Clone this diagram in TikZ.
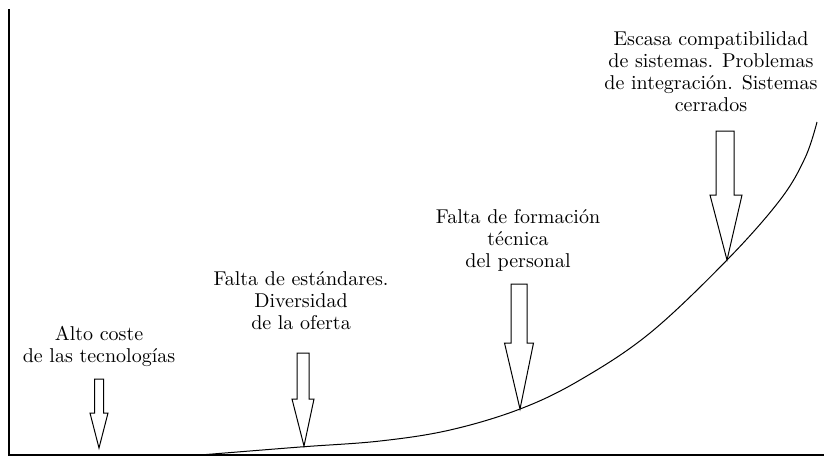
\documentclass[tikz,border=0pt]{standalone}
\usepackage{fontspec}
\tikzset{
	etiqueta/.style={anchor=north,align=center,inner sep=0pt,font=\fontsize{10}{11}\selectfont},
	flecha/.style={line width=0.5pt,line join=miter}
}

\begin{document}
\begin{tikzpicture}[x=0.5pt,y=-0.5pt]
	\useasboundingbox (0,0) rectangle (824,457);
	%ejes
	\draw[line width=1pt] (9,9) -- (9,455) -- (824,455);
	%curva
	\draw[line width=0.5pt] plot[smooth,tension=0.6] coordinates {(200,455) (300,447) (380,441) (450,430) (520,409) (580,380) (650,333) (727,260) (780,200) (805,158) (817,122)};
	\node[etiqueta] (coste) at (99,326) {Alto coste\\de las tecnologías};
	\node[etiqueta] (estandares) at (301,271) {Falta de estándares.\\Diversidad\\de la oferta};
	\node[etiqueta] (formacion) at (518,209) {Falta de formación\\técnica\\del personal};
	\node[etiqueta] (compat) at (711,31) {Escasa compatibilidad\\de sistemas. Problemas\\de integración. Sistemas\\cerrados};
	\coordinate (T1) at (99,448);
	\coordinate (T2) at (304,446);
	\coordinate (T3) at (520,409);
	\coordinate (T4) at (727,260);
	\draw[flecha] (94.5,379) -- (94.5,413) -- (90,413) -- (T1) -- (108,413) -- (103.5,413) -- (103.5,379) -- cycle;
	\draw[flecha] (297,353) -- (297,399) -- (292,399) -- (T2) -- (314,399) -- (309,399) -- (309,353) -- cycle;
	\draw[flecha] (511,284) -- (511,343) -- (504.5,343) -- (T3) -- (533.5,343) -- (527,343) -- (527,284) -- cycle;
	\draw[flecha] (716,131) -- (716,195) -- (710,195) -- (T4) -- (742,195) -- (734,195) -- (734,131) -- cycle;
\end{tikzpicture}
\end{document}
